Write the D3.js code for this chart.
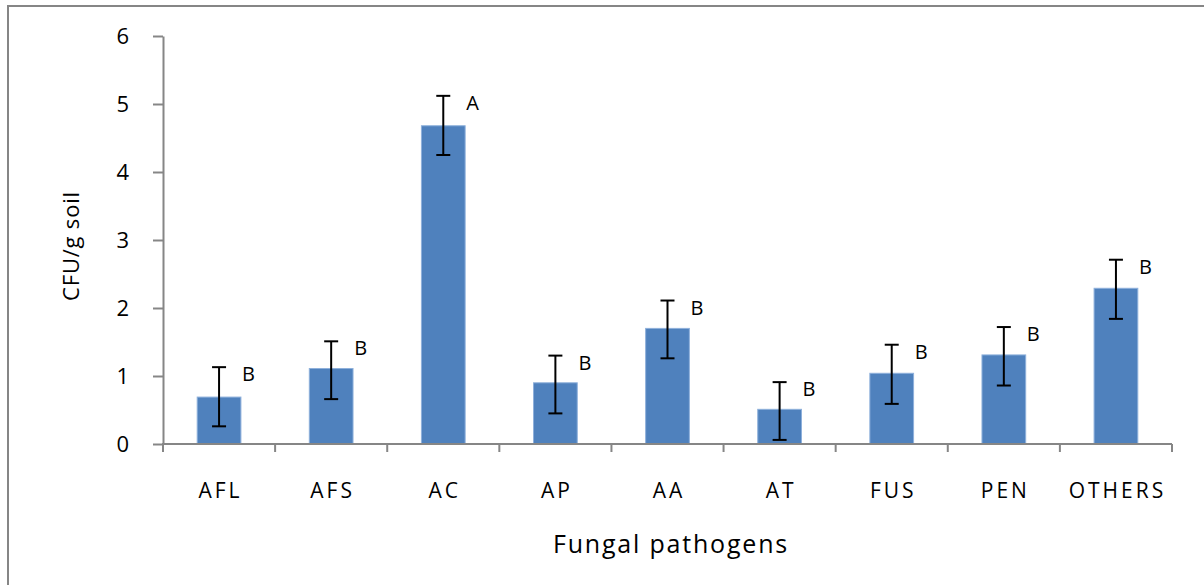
<!DOCTYPE html>
<html>

<head>
    <title>Fungal pathogens</title>
    <script src="https://cdn.jsdelivr.net/npm/d3@7"></script>
    <style>
        body { margin: 0; background: #fff; }
        text { font-family: 'Open Sans', sans-serif; fill: #000; }
    </style>
</head>

<body>
    <svg width="1204" height="585" id="mainsvg"></svg>
    <script>
        // data
        const categories = ['AFL', 'AFS', 'AC', 'AP', 'AA', 'AT', 'FUS', 'PEN', 'OTHERS'];
        const means = [0.69, 1.11, 4.68, 0.90, 1.70, 0.51, 1.04, 1.31, 2.29];
        const errHigh = [1.13, 1.51, 5.12, 1.30, 2.11, 0.91, 1.46, 1.72, 2.71];
        const errLow = [0.26, 0.66, 4.25, 0.45, 1.26, 0.06, 0.59, 0.86, 1.84];
        const groups = ['B', 'B', 'A', 'B', 'B', 'B', 'B', 'B', 'B'];
        const yTicks = [0, 1, 2, 3, 4, 5, 6];

        const svg = d3.select('#mainsvg');
        const margin = { top: 36, right: 32, bottom: 141, left: 163 };
        const innerWidth = 1172 - margin.left;
        const innerHeight = 444 - margin.top;

        // outer chart border (right and bottom edges fall outside the window)
        svg.append('path')
            .attr('d', 'M8,585 V6 H1204')
            .attr('fill', 'none')
            .attr('stroke', '#868686')
            .attr('stroke-width', 2);

        const g = svg.append('g')
            .attr('transform', `translate(${margin.left}, ${margin.top})`);

        const xScale = d3.scaleBand()
            .domain(categories)
            .range([0, innerWidth])
            .paddingInner(0.61)
            .paddingOuter(0.305);

        const yScale = d3.scaleLinear()
            .domain([0, 6])
            .range([innerHeight, 0]);

        const data = categories.map((c, i) => ({
            name: c, mean: means[i], hi: errHigh[i], lo: errLow[i], grp: groups[i]
        }));

        // bars
        g.selectAll('.bar').data(data).join('rect')
            .attr('class', 'bar')
            .attr('x', d => xScale(d.name))
            .attr('y', d => yScale(d.mean))
            .attr('width', xScale.bandwidth())
            .attr('height', d => yScale(0) - yScale(d.mean))
            .attr('fill', '#4F81BD')
            .attr('stroke', '#8EB0DB')
            .attr('stroke-width', 1);

        // error bars
        const cx = d => xScale(d.name) + xScale.bandwidth() / 2;
        const eb = g.selectAll('.err').data(data).join('g').attr('class', 'err')
            .attr('stroke', '#000').attr('stroke-width', 2);
        eb.append('line')
            .attr('x1', cx).attr('x2', cx)
            .attr('y1', d => yScale(d.hi)).attr('y2', d => yScale(d.lo));
        eb.append('line')
            .attr('x1', d => cx(d) - 7).attr('x2', d => cx(d) + 7)
            .attr('y1', d => yScale(d.hi)).attr('y2', d => yScale(d.hi));
        eb.append('line')
            .attr('x1', d => cx(d) - 7).attr('x2', d => cx(d) + 7)
            .attr('y1', d => yScale(d.lo)).attr('y2', d => yScale(d.lo));

        // significance letters
        g.selectAll('.grp').data(data).join('text')
            .attr('class', 'grp')
            .attr('x', d => cx(d) + 23)
            .attr('y', d => yScale(d.hi) + 14)
            .attr('font-size', '20px')
            .text(d => d.grp);

        // y axis
        const yAxis = d3.axisLeft(yScale)
            .tickValues(yTicks)
            .tickFormat(d3.format('d'))
            .tickSize(10)
            .tickSizeOuter(0)
            .tickPadding(24);
        const yAxisGroup = g.append('g').call(yAxis);
        yAxisGroup.selectAll('line, path').attr('stroke', '#868686').attr('stroke-width', 2);
        yAxisGroup.selectAll('text')
            .attr('font-size', '22px')
            .attr('font-family', "'Open Sans', sans-serif")
            .attr('fill', '#000');

        // x axis, ticks sit on the band boundaries
        const xAxisGroup = g.append('g')
            .attr('transform', `translate(0, ${innerHeight})`);
        xAxisGroup.append('line')
            .attr('x1', -1).attr('x2', innerWidth)
            .attr('stroke', '#868686').attr('stroke-width', 2);
        const step = xScale.step();
        xAxisGroup.selectAll('.xtick').data(d3.range(categories.length + 1)).join('line')
            .attr('class', 'xtick')
            .attr('x1', i => i * step).attr('x2', i => i * step)
            .attr('y1', 0).attr('y2', 8)
            .attr('stroke', '#868686').attr('stroke-width', 2);
        xAxisGroup.selectAll('.xlab').data(categories).join('text')
            .attr('class', 'xlab')
            .attr('x', d => xScale(d) + xScale.bandwidth() / 2 + 1.5)
            .attr('y', 54)
            .attr('text-anchor', 'middle')
            .attr('font-size', '21px')
            .attr('letter-spacing', '3px')
            .text(d => d);

        // axis titles
        svg.append('text')
            .attr('transform', `translate(79, 246) rotate(-90)`)
            .attr('text-anchor', 'middle')
            .attr('font-size', '22px')
            .attr('letter-spacing', '0.8px')
            .text('CFU/g soil');
        svg.append('text')
            .attr('x', 671).attr('y', 553)
            .attr('text-anchor', 'middle')
            .attr('font-size', '25px')
            .attr('letter-spacing', '1.8px')
            .text('Fungal pathogens');
    </script>
</body>

</html>
